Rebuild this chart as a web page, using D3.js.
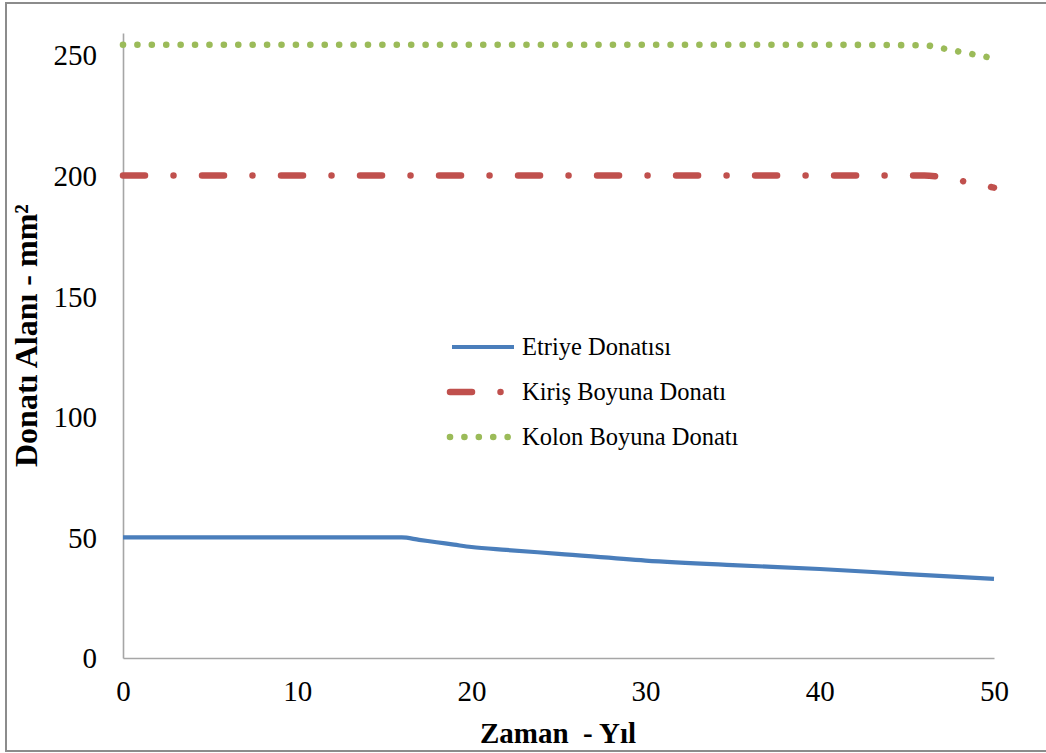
<!DOCTYPE html>
<html>
<head>
<meta charset="utf-8">
<script src="https://cdn.jsdelivr.net/npm/d3@7"></script>
<style>
  html, body { margin: 0; padding: 0; background: #fff; }
  svg { display: block; }
  text { font-family: "Liberation Serif", "Times New Roman", serif; fill: #000; white-space: pre; }
</style>
</head>
<body>
<svg id="chart" width="1046" height="753"></svg>
<script>
// Reinforcement area over time (years) for three bar groups
const years = [0, 5, 10, 16, 17, 18, 19, 20, 22, 25, 30, 35, 40, 45, 50];
const etriye = [50, 50, 50, 50, 49, 48, 47, 46, 44.8, 43.2, 40.4, 38.5, 36.9, 34.8, 32.8];

const yearsKiris = [0, 10, 20, 30, 40, 46, 46.8, 47.5, 48.5, 49.3, 50];
const kiris = [200, 200, 200, 200, 200, 200, 199.6, 198.8, 197.2, 196, 195];

const yearsKolon = [0, 10, 20, 30, 40, 46, 47, 48, 49, 50];
const kolon = [254.2, 254.2, 254.2, 254.2, 254.2, 254.0, 252.8, 251.4, 250.0, 248.6];

const seriesNames = ["Etriye Donatısı", "Kiriş Boyuna Donatı", "Kolon Boyuna Donatı"];
const xTicks = [0, 10, 20, 30, 40, 50];
const yTicks = [0, 50, 100, 150, 200, 250];
const xTitle = "Zaman  - Yıl";
const yTitle = "Donatı Alanı - mm²";

const svg = d3.select("#chart");

// outer frame
svg.append("rect")
  .attr("x", 6).attr("y", 3)
  .attr("width", 1046).attr("height", 748)
  .attr("fill", "none").attr("stroke", "#8c8c8c").attr("stroke-width", 2);

const x = d3.scaleLinear().domain([0, 50]).range([123, 994]);
const y = d3.scaleLinear().domain([0, 259.1]).range([658, 33]);

// axes (lines only, labels drawn by the axis generator)
const xAxis = d3.axisBottom(x).tickValues(xTicks).tickSize(0).tickPadding(22);
const yAxis = d3.axisLeft(y).tickValues(yTicks).tickSize(0).tickPadding(26);

const gx = svg.append("g").attr("transform", `translate(0,${y(0)})`).call(xAxis);
const gy = svg.append("g").attr("transform", `translate(${x(0)},0)`).call(yAxis);

[gx, gy].forEach(g => {
  g.select(".domain").attr("stroke", "#a6a6a6").attr("stroke-width", 1.6);
  g.selectAll("text").style("font-size", "29px").attr("fill", "#000");
});
gx.selectAll("text").attr("dy", "0.71em");
gy.selectAll("text").attr("dy", "0.34em");

const line = d3.line().x(d => x(d[0])).y(d => y(d[1])).curve(d3.curveMonotoneX);

const styles = [
  { color: "#4a7ebb", width: 4.2, dash: null, cap: "butt" },
  { color: "#c0504d", width: 6.5, dash: "22,28.5,0.01,28.5", cap: "round" },
  { color: "#9bbb59", width: 6.6, dash: "0.01,14.4", cap: "round" }
];

const data = [
  d3.zip(years, etriye),
  d3.zip(yearsKiris, kiris),
  d3.zip(yearsKolon, kolon)
];

data.forEach((d, i) => {
  svg.append("path")
    .datum(d)
    .attr("d", line)
    .attr("fill", "none")
    .attr("stroke", styles[i].color)
    .attr("stroke-width", styles[i].width)
    .attr("stroke-linecap", styles[i].cap)
    .attr("stroke-linejoin", "round")
    .attr("stroke-dasharray", styles[i].dash);
});

// legend
const legend = svg.append("g");
const legendY = [347, 392, 437];
seriesNames.forEach((name, i) => {
  const st = styles[i];
  legend.append("line")
    .attr("x1", i === 0 ? 452 : 450).attr("x2", i === 2 ? 510 : 514)
    .attr("y1", legendY[i]).attr("y2", legendY[i])
    .attr("stroke", st.color)
    .attr("stroke-width", st.width)
    .attr("stroke-linecap", st.cap)
    .attr("stroke-dasharray", st.dash);
  legend.append("text")
    .attr("x", 522).attr("y", legendY[i])
    .attr("dy", "0.33em")
    .style("font-size", "24.5px")
    .text(name);
});

// axis titles
svg.append("text")
  .attr("x", 558).attr("y", 743)
  .attr("text-anchor", "middle")
  .style("font-size", "29px").style("font-weight", "bold")
  .text(xTitle);

svg.append("text")
  .attr("transform", "translate(37,467) rotate(-90)")
  .attr("text-anchor", "start")
  .style("font-size", "32px").style("font-weight", "bold")
  .text(yTitle);
</script>
</body>
</html>
